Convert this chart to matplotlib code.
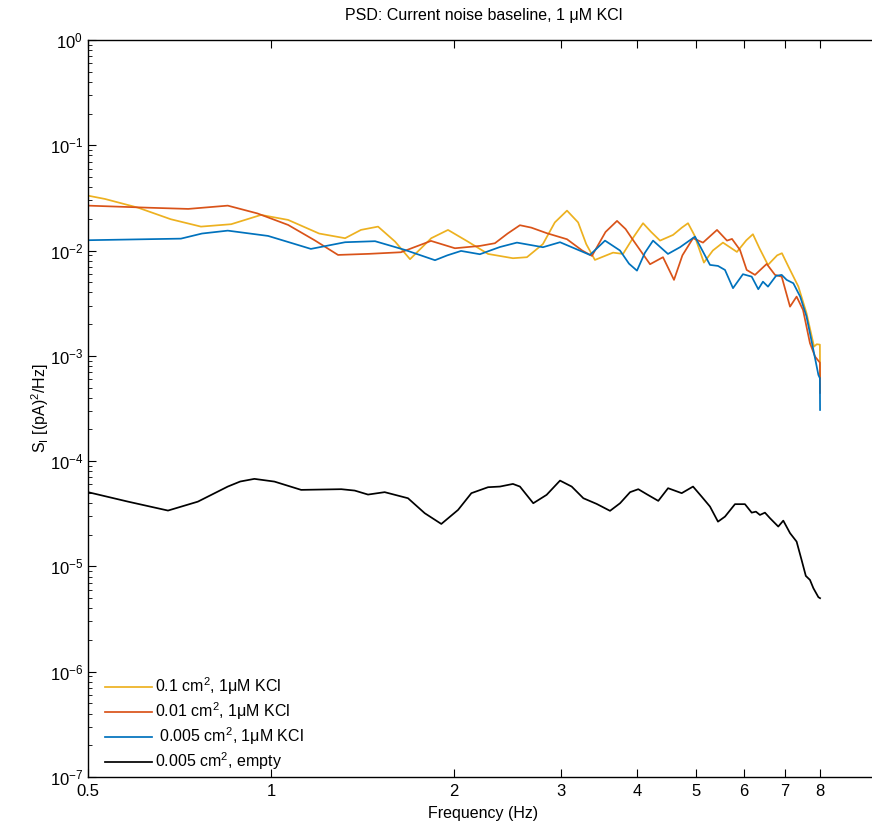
import matplotlib
matplotlib.use('Agg')
import matplotlib.pyplot as plt
from matplotlib.ticker import FixedLocator, FixedFormatter, LogLocator, NullLocator

plt.rcParams['font.family'] = ['Liberation Sans', 'DejaVu Sans']
plt.rcParams['mathtext.fontset'] = 'custom'
plt.rcParams['mathtext.rm'] = 'Liberation Sans'
plt.rcParams['mathtext.it'] = 'Liberation Sans:italic'
plt.rcParams['mathtext.bf'] = 'Liberation Sans:bold'

# PSD curves (frequency in Hz, S_I in (pA)^2/Hz)
f_01 = [0.5, 0.533, 0.604, 0.684, 0.767, 0.860, 0.963, 1.067, 1.20, 1.324, 1.406, 1.500,
        1.60, 1.693, 1.835, 1.955, 2.108, 2.275, 2.500, 2.636, 2.80, 2.93, 3.068, 3.20,
        3.30, 3.410, 3.653, 3.793, 3.95, 4.092, 4.22, 4.364, 4.584, 4.74, 4.852, 4.97,
        5.153, 5.33, 5.538, 5.839, 6.05, 6.204, 6.36, 6.567, 6.80, 6.924, 7.10, 7.37,
        7.60, 7.82, 7.90, 7.995, 8.0]
s_01 = [0.0332, 0.0309, 0.02555, 0.01983, 0.01687, 0.01778, 0.02178, 0.01953, 0.0145,
        0.01309, 0.0157, 0.01687, 0.01215, 0.00827, 0.0131, 0.01569, 0.01215, 0.00928,
        0.00845, 0.00864, 0.0115, 0.0185, 0.02393, 0.0185, 0.0115, 0.00814, 0.00955,
        0.00928, 0.0135, 0.01817, 0.0150, 0.01242, 0.01406, 0.0165, 0.01817, 0.0140,
        0.00768, 0.0100, 0.01189, 0.00970, 0.0125, 0.01428, 0.0105, 0.00730, 0.0090,
        0.00943, 0.0070, 0.00454, 0.00254, 0.001223, 0.001288, 0.001277, 0.000617]

f_001 = [0.5, 0.63, 0.731, 0.849, 0.95, 1.067, 1.18, 1.289, 1.45, 1.636, 1.833, 2.007,
         2.206, 2.335, 2.45, 2.567, 2.68, 2.843, 3.068, 3.25, 3.372, 3.55, 3.708, 3.83,
         3.939, 4.202, 4.413, 4.601, 4.75, 4.945, 5.135, 5.415, 5.624, 5.731, 5.907,
         6.059, 6.253, 6.536, 6.745, 6.918, 7.14, 7.32, 7.50, 7.70, 7.85, 7.995, 8.0]
s_001 = [0.02669, 0.0255, 0.02484, 0.02669, 0.0225, 0.01750, 0.0125, 0.00908, 0.0093,
         0.00963, 0.01234, 0.01051, 0.01106, 0.01173, 0.0145, 0.01739, 0.0165, 0.01460,
         0.01280, 0.0100, 0.00889, 0.0150, 0.01911, 0.0160, 0.01260, 0.00741, 0.00864,
         0.00526, 0.0090, 0.01309, 0.01189, 0.01569, 0.01242, 0.01289, 0.01013, 0.00654,
         0.00587, 0.00746, 0.00587, 0.00565, 0.00293, 0.00365, 0.00273, 0.001317,
         0.000983, 0.000862, 0.000444]

f_0005 = [0.5, 0.711, 0.77, 0.849, 0.989, 1.08, 1.163, 1.324, 1.483, 1.661, 1.861, 1.95,
          2.054, 2.206, 2.38, 2.538, 2.801, 2.988, 3.347, 3.543, 3.75, 3.88, 3.999, 4.12,
          4.250, 4.497, 4.707, 4.982, 5.273, 5.435, 5.581, 5.753, 5.974, 6.175, 6.331,
          6.444, 6.568, 6.77, 6.918, 7.05, 7.23, 7.42, 7.60, 7.80, 7.95, 7.995, 8.0]
s_0005 = [0.01253, 0.01297, 0.0145, 0.01545, 0.01376, 0.0118, 0.01036, 0.01199, 0.01226,
          0.01013, 0.00809, 0.0090, 0.00991, 0.00922, 0.0108, 0.01189, 0.01075, 0.01199,
          0.00908, 0.01242, 0.0100, 0.0075, 0.00644, 0.0095, 0.01242, 0.00928, 0.01075,
          0.01355, 0.00730, 0.00714, 0.00654, 0.00439, 0.00596, 0.00565, 0.00429, 0.00506,
          0.00454, 0.00574, 0.00587, 0.00526, 0.00489, 0.00365, 0.00236, 0.001138,
          0.000658, 0.000613, 0.000306]

f_empty = [0.5, 0.582, 0.677, 0.758, 0.849, 0.89, 0.939, 1.013, 1.121, 1.305, 1.373, 1.444,
           1.538, 1.680, 1.790, 1.906, 2.031, 2.136, 2.275, 2.380, 2.500, 2.567, 2.700,
           2.840, 2.988, 3.123, 3.264, 3.433, 3.611, 3.751, 3.896, 4.019, 4.149, 4.335,
           4.499, 4.737, 4.945, 5.109, 5.273, 5.435, 5.581, 5.796, 6.019, 6.175, 6.275,
           6.371, 6.493, 6.618, 6.829, 6.960, 7.14, 7.32, 7.46, 7.58, 7.70, 7.80, 7.95, 8.0]
s_empty = [5.07e-5, 4.12e-5, 3.39e-5, 4.12e-5, 5.73e-5, 6.40e-5, 6.78e-5, 6.39e-5, 5.33e-5,
           5.41e-5, 5.25e-5, 4.81e-5, 5.07e-5, 4.44e-5, 3.20e-5, 2.53e-5, 3.44e-5, 4.96e-5,
           5.65e-5, 5.73e-5, 6.07e-5, 5.73e-5, 3.98e-5, 4.78e-5, 6.53e-5, 5.73e-5, 4.44e-5,
           3.92e-5, 3.37e-5, 3.98e-5, 5.07e-5, 5.41e-5, 4.85e-5, 4.19e-5, 5.53e-5, 4.96e-5,
           5.73e-5, 4.60e-5, 3.70e-5, 2.66e-5, 2.97e-5, 3.90e-5, 3.90e-5, 3.24e-5, 3.31e-5,
           3.08e-5, 3.24e-5, 2.87e-5, 2.39e-5, 2.72e-5, 2.07e-5, 1.72e-5, 1.15e-5, 8.12e-6,
           7.44e-6, 6.21e-6, 5.10e-6, 4.99e-6]

labels = ['0.1 cm$^2$, 1\u03bcM KCl', '0.01 cm$^2$, 1\u03bcM KCl',
          ' 0.005 cm$^2$, 1\u03bcM KCl', '0.005 cm$^2$, empty']
colors = ['#EDB120', '#D95319', '#0072BD', 'black']

xticks = [0.5, 1, 2, 3, 4, 5, 6, 7, 8]
xticklabels = ['0.5', '1', '2', '3', '4', '5', '6', '7', '8']

fig = plt.figure(figsize=(8.72, 8.27), dpi=100)
ax = fig.add_axes([0.1009, 0.0605, 0.9071, 0.8912])

series = [(f_01, s_01), (f_001, s_001), (f_0005, s_0005), (f_empty, s_empty)]
for (f, s), lab, c in zip(series, labels, colors):
    ax.plot(f, s, color=c, lw=1.25, label=lab, solid_joinstyle='round')

ax.set_xscale('log')
ax.set_yscale('log')
ax.set_xlim(0.5, 10)
ax.set_ylim(1e-7, 1)

ax.xaxis.set_major_locator(FixedLocator(xticks))
ax.xaxis.set_major_formatter(FixedFormatter(xticklabels))
ax.xaxis.set_minor_locator(NullLocator())
ax.yaxis.set_major_locator(LogLocator(base=10, numticks=10))
ax.yaxis.set_minor_locator(LogLocator(base=10, subs=range(2, 10), numticks=10))

# right spine sits just past the figure edge, so no ticks there
ax.tick_params(which='both', direction='in', top=True, right=False, labelsize=12)
ax.tick_params(which='major', length=6, width=0.8)
ax.tick_params(which='minor', length=3, width=0.6)
ax.tick_params(axis='x', pad=5)
for sp in ax.spines.values():
    sp.set_linewidth(1.0)

ax.set_title('PSD: Current noise baseline, 1 \u03bcM KCl', fontsize=11.5, pad=14)
ax.set_xlabel('Frequency (Hz)', fontsize=11.5, labelpad=5)
ax.set_ylabel('S$_\\mathrm{I}$ [(pA)$^2$/Hz]', fontsize=11.5, labelpad=-1)

ax.legend(loc='lower left', bbox_to_anchor=(0.016, 0.0), frameon=False,
          fontsize=11.5, handlelength=2.9, labelspacing=0.2, borderaxespad=0.0,
          handletextpad=0.2, borderpad=0.3)

fig.savefig('out.png', dpi=100)
